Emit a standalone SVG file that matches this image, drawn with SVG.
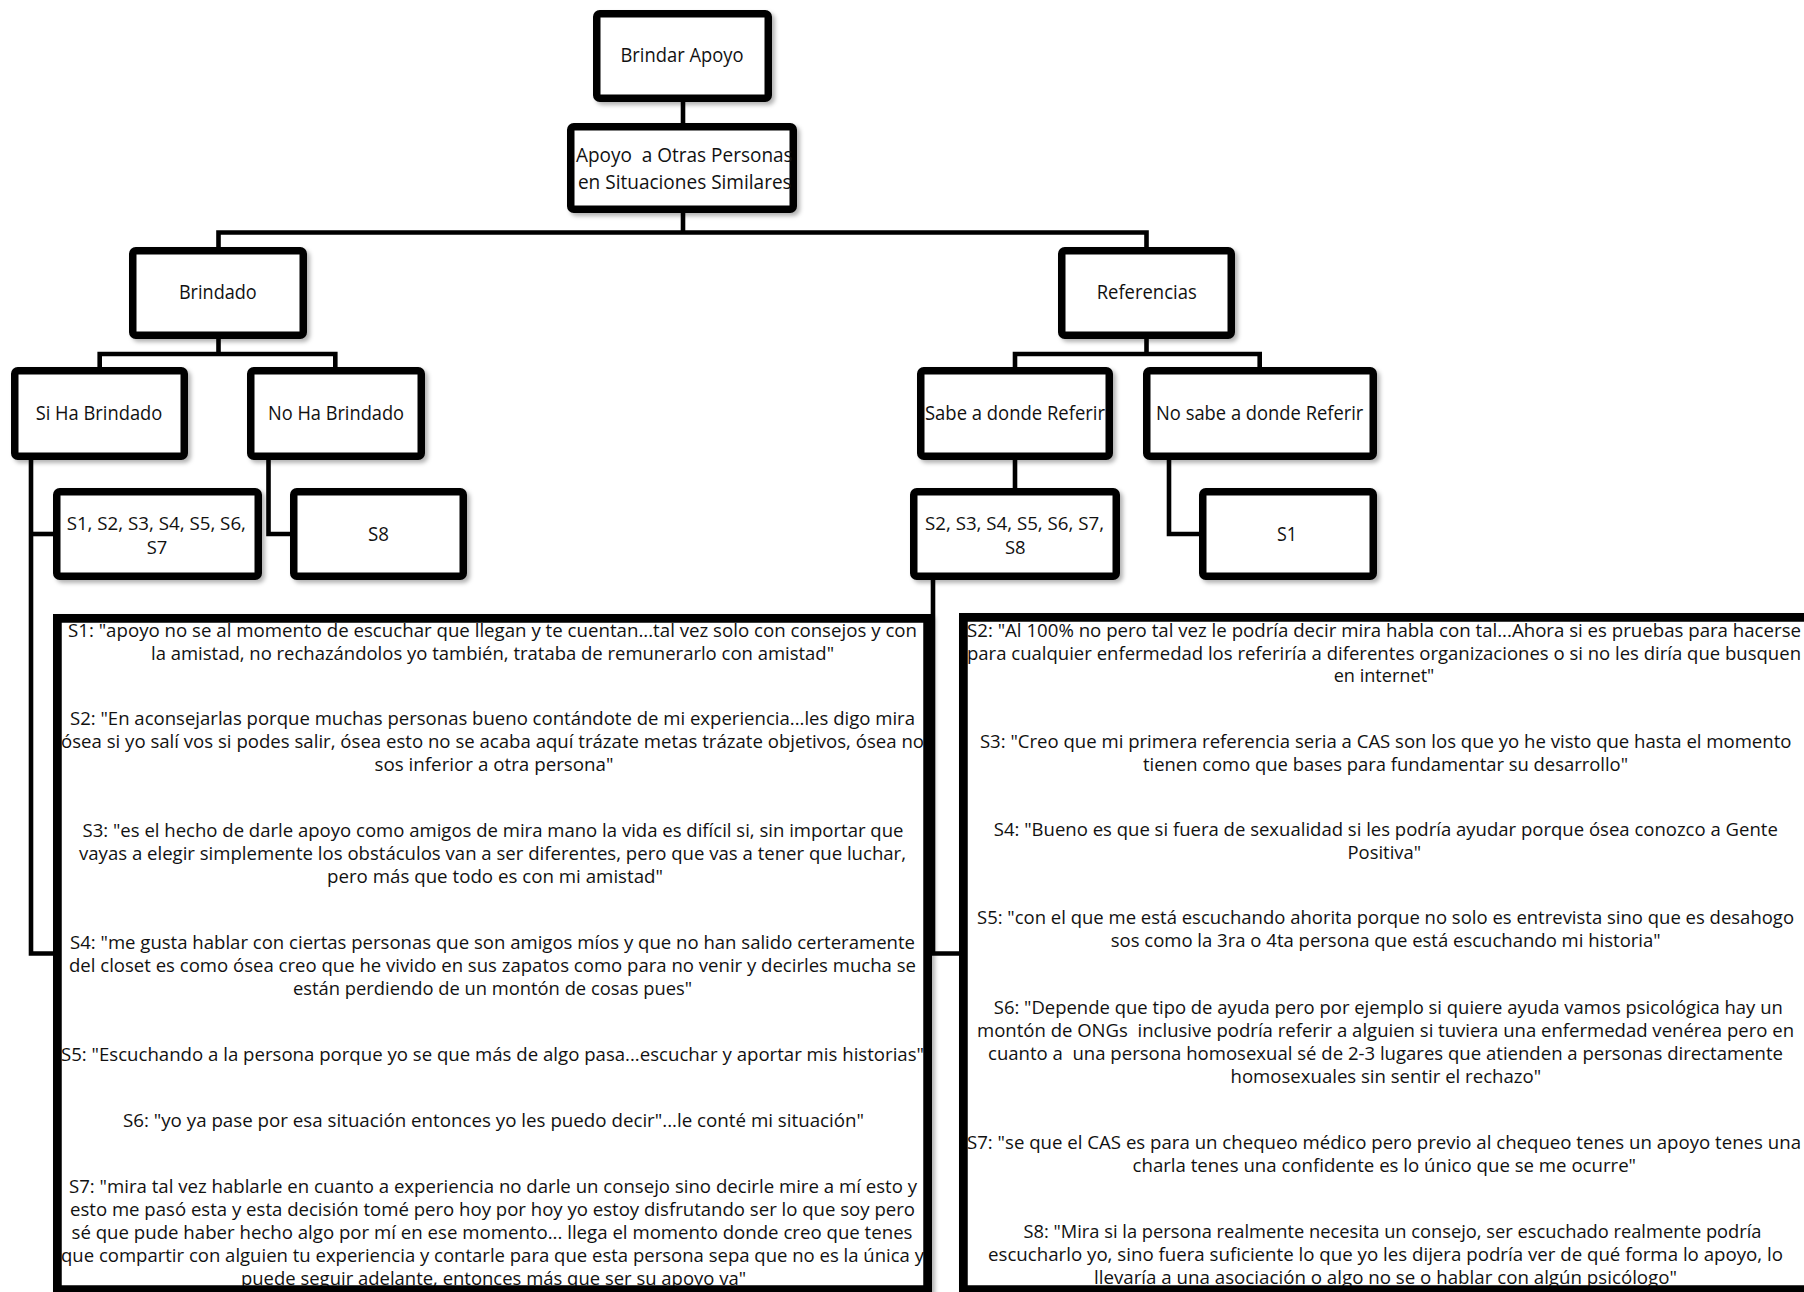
<svg xmlns="http://www.w3.org/2000/svg" width="1804" height="1292" viewBox="0 0 1804 1292">
<defs>
<filter id="sh" x="-10%" y="-10%" width="130%" height="130%">
<feDropShadow dx="3" dy="3" stdDeviation="2" flood-color="#000" flood-opacity="0.3"/>
</filter>
<style>
.box{fill:#fff;stroke:#000;stroke-width:7.5;filter:url(#sh)}
.big{fill:#fff;stroke:#000;stroke-width:8.5;filter:url(#sh)}
.bord{fill:none;stroke:#000;stroke-width:8.5}
.lbl{font-family:"Open Sans","Liberation Sans",sans-serif;font-size:19.5px;text-anchor:middle;fill:#111;white-space:pre}
.sm{font-size:17.5px}
.q{font-family:"Open Sans","Liberation Sans",sans-serif;font-size:18.5px;text-anchor:middle;fill:#111;white-space:pre}
.c{fill:none;stroke:#000;stroke-width:4.6;stroke-linejoin:miter;stroke-linecap:butt}
</style>
</defs>
<rect width="1804" height="1292" fill="#fff"/>

<g id="connectors">
<path class="c" d="M683,102 V123"/>
<path class="c" d="M683,213 V232.5"/>
<path class="c" d="M218.5,247 V232.5 H1146.5 V247"/>
<path class="c" d="M218.5,339 V354"/>
<path class="c" d="M99.7,367 V354 H335.3 V367"/>
<path class="c" d="M1146.5,339 V354"/>
<path class="c" d="M1015,367 V354 H1259.7 V367"/>
<path class="c" d="M31,460 V953.5 H55"/>
<path class="c" d="M31,534 H55"/>
<path class="c" d="M268.5,460 V534 H292"/>
<path class="c" d="M1015,460 V490"/>
<path class="c" d="M1169,460 V534 H1201"/>
<path class="c" d="M933,580 V953.5 H961"/>
</g>

<g id="brindar-apoyo">
<rect class="box" x="596.75" y="13.75" width="171.5" height="84.5" rx="3"/>
<text class="lbl" x="682" y="62" textLength="123" lengthAdjust="spacingAndGlyphs">Brindar Apoyo</text>
</g>
<g id="apoyo-otras">
<rect class="box" x="570.75" y="126.75" width="222.5" height="82.5" rx="3"/>
<text class="lbl" x="684.3" y="162" textLength="216.7" lengthAdjust="spacingAndGlyphs">Apoyo  a Otras Personas</text>
<text class="lbl" x="684.8" y="188.7" textLength="213.7" lengthAdjust="spacingAndGlyphs">en Situaciones Similares</text>
</g>
<g id="brindado">
<rect class="box" x="132.75" y="250.75" width="170.5" height="84.5" rx="3"/>
<text class="lbl" x="217.8" y="299" textLength="77.7" lengthAdjust="spacingAndGlyphs">Brindado</text>
</g>
<g id="si-ha-brindado">
<rect class="box" x="14.75" y="370.75" width="169.5" height="85.5" rx="3"/>
<text class="lbl" x="99" y="419.7" textLength="126.6" lengthAdjust="spacingAndGlyphs">Si Ha Brindado</text>
</g>
<g id="no-ha-brindado">
<rect class="box" x="250.75" y="370.75" width="170.5" height="85.5" rx="3"/>
<text class="lbl" x="336" y="419.7" textLength="136" lengthAdjust="spacingAndGlyphs">No Ha Brindado</text>
</g>
<g id="s1-s7">
<rect class="box" x="56.75" y="491.75" width="201.5" height="84.5" rx="3"/>
<text class="lbl sm" x="156.3" y="529.5" textLength="179.3" lengthAdjust="spacingAndGlyphs">S1, S2, S3, S4, S5, S6,</text>
<text class="lbl sm" x="157" y="553.5" textLength="20.6" lengthAdjust="spacingAndGlyphs">S7</text>
</g>
<g id="s8-left">
<rect class="box" x="293.75" y="491.75" width="169.5" height="84.5" rx="3"/>
<text class="lbl" x="378.5" y="541" textLength="21" lengthAdjust="spacingAndGlyphs">S8</text>
</g>
<g id="referencias">
<rect class="box" x="1061.75" y="250.75" width="169.5" height="84.5" rx="3"/>
<text class="lbl" x="1146.7" y="299" textLength="100" lengthAdjust="spacingAndGlyphs">Referencias</text>
</g>
<g id="sabe">
<rect class="box" x="920.75" y="370.75" width="188.5" height="85.5" rx="3"/>
<text class="lbl" x="1015" y="419.7" textLength="180" lengthAdjust="spacingAndGlyphs">Sabe a donde Referir</text>
</g>
<g id="no-sabe">
<rect class="box" x="1146.75" y="370.75" width="226.5" height="85.5" rx="3"/>
<text class="lbl" x="1259.7" y="419.7" textLength="207.3" lengthAdjust="spacingAndGlyphs">No sabe a donde Referir</text>
</g>
<g id="s2-s8">
<rect class="box" x="913.75" y="491.75" width="202.5" height="84.5" rx="3"/>
<text class="lbl sm" x="1014.5" y="529.5" textLength="179" lengthAdjust="spacingAndGlyphs">S2, S3, S4, S5, S6, S7,</text>
<text class="lbl sm" x="1015.3" y="553.5" textLength="20.7" lengthAdjust="spacingAndGlyphs">S8</text>
</g>
<g id="s1-right">
<rect class="box" x="1202.75" y="491.75" width="170.5" height="84.5" rx="3"/>
<text class="lbl" x="1287" y="541" textLength="20" lengthAdjust="spacingAndGlyphs">S1</text>
</g>

<g id="citas-brindado">
<rect class="big" x="57.25" y="618.25" width="870.5" height="671.5"/>
<text class="q" x="492.5" y="637" textLength="849" lengthAdjust="spacingAndGlyphs">S1: "apoyo no se al momento de escuchar que llegan y te cuentan...tal vez solo con consejos y con</text>
<text class="q" x="492.5" y="660" textLength="683" lengthAdjust="spacingAndGlyphs">la amistad, no rechazándolos yo también, trataba de remunerarlo con amistad"</text>
<text class="q" x="492.5" y="725" textLength="845" lengthAdjust="spacingAndGlyphs">S2: "En aconsejarlas porque muchas personas bueno contándote de mi experiencia...les digo mira</text>
<text class="q" x="492.5" y="748" textLength="863" lengthAdjust="spacingAndGlyphs">ósea si yo salí vos si podes salir, ósea esto no se acaba aquí trázate metas trázate objetivos, ósea no</text>
<text class="q" x="494" y="771" textLength="239" lengthAdjust="spacingAndGlyphs">sos inferior a otra persona"</text>
<text class="q" x="493" y="837" textLength="821" lengthAdjust="spacingAndGlyphs">S3: "es el hecho de darle apoyo como amigos de mira mano la vida es difícil si, sin importar que</text>
<text class="q" x="492.5" y="860" textLength="827" lengthAdjust="spacingAndGlyphs">vayas a elegir simplemente los obstáculos van a ser diferentes, pero que vas a tener que luchar,</text>
<text class="q" x="495" y="883" textLength="336" lengthAdjust="spacingAndGlyphs">pero más que todo es con mi amistad"</text>
<text class="q" x="492.5" y="949" textLength="845" lengthAdjust="spacingAndGlyphs">S4: "me gusta hablar con ciertas personas que son amigos míos y que no han salido certeramente</text>
<text class="q" x="492.5" y="972" textLength="847" lengthAdjust="spacingAndGlyphs">del closet es como ósea creo que he vivido en sus zapatos como para no venir y decirles mucha se</text>
<text class="q" x="492.5" y="995" textLength="399" lengthAdjust="spacingAndGlyphs">están perdiendo de un montón de cosas pues"</text>
<text class="q" x="492.5" y="1061" textLength="863" lengthAdjust="spacingAndGlyphs">S5: "Escuchando a la persona porque yo se que más de algo pasa...escuchar y aportar mis historias"</text>
<text class="q" x="493.5" y="1127" textLength="741" lengthAdjust="spacingAndGlyphs">S6: "yo ya pase por esa situación entonces yo les puedo decir"...le conté mi situación"</text>
<text class="q" x="493" y="1193" textLength="848" lengthAdjust="spacingAndGlyphs">S7: "mira tal vez hablarle en cuanto a experiencia no darle un consejo sino decirle mire a mí esto y</text>
<text class="q" x="492.5" y="1216" textLength="845" lengthAdjust="spacingAndGlyphs">esto me pasó esta y esta decisión tomé pero hoy por hoy yo estoy disfrutando ser lo que soy pero</text>
<text class="q" x="492" y="1239" textLength="841" lengthAdjust="spacingAndGlyphs">sé que pude haber hecho algo por mí en ese momento... llega el momento donde creo que tenes</text>
<text class="q" x="492.5" y="1262" textLength="863" lengthAdjust="spacingAndGlyphs">que compartir con alguien tu experiencia y contarle para que esta persona sepa que no es la única y</text>
<text class="q" x="493.5" y="1285" textLength="505" lengthAdjust="spacingAndGlyphs">puede seguir adelante, entonces más que ser su apoyo va"</text>
<rect class="bord" x="57.25" y="618.25" width="870.5" height="671.5"/>
</g>

<g id="citas-referencias">
<rect class="big" x="963.25" y="617.25" width="847.5" height="672.5"/>
<text class="q" x="1384" y="637" textLength="834" lengthAdjust="spacingAndGlyphs">S2: "Al 100% no pero tal vez le podría decir mira habla con tal...Ahora si es pruebas para hacerse</text>
<text class="q" x="1384" y="659.5" textLength="834" lengthAdjust="spacingAndGlyphs">para cualquier enfermedad los referiría a diferentes organizaciones o si no les diría que busquen</text>
<text class="q" x="1384" y="682" textLength="100.7" lengthAdjust="spacingAndGlyphs">en internet"</text>
<text class="q" x="1385.7" y="748" textLength="811.5" lengthAdjust="spacingAndGlyphs">S3: "Creo que mi primera referencia seria a CAS son los que yo he visto que hasta el momento</text>
<text class="q" x="1385.5" y="770.5" textLength="485" lengthAdjust="spacingAndGlyphs">tienen como que bases para fundamentar su desarrollo"</text>
<text class="q" x="1385.8" y="836" textLength="784" lengthAdjust="spacingAndGlyphs">S4: "Bueno es que si fuera de sexualidad si les podría ayudar porque ósea conozco a Gente</text>
<text class="q" x="1384.3" y="859" textLength="73.5" lengthAdjust="spacingAndGlyphs">Positiva"</text>
<text class="q" x="1385.5" y="924" textLength="817" lengthAdjust="spacingAndGlyphs">S5: "con el que me está escuchando ahorita porque no solo es entrevista sino que es desahogo</text>
<text class="q" x="1385.7" y="947" textLength="550" lengthAdjust="spacingAndGlyphs">sos como la 3ra o 4ta persona que está escuchando mi historia"</text>
<text class="q" x="1388.3" y="1014" textLength="789" lengthAdjust="spacingAndGlyphs">S6: "Depende que tipo de ayuda pero por ejemplo si quiere ayuda vamos psicológica hay un</text>
<text class="q" x="1385.5" y="1037" textLength="817" lengthAdjust="spacingAndGlyphs">montón de ONGs  inclusive podría referir a alguien si tuviera una enfermedad venérea pero en</text>
<text class="q" x="1385.5" y="1060" textLength="795" lengthAdjust="spacingAndGlyphs">cuanto a  una persona homosexual sé de 2-3 lugares que atienden a personas directamente</text>
<text class="q" x="1385.8" y="1083" textLength="310.5" lengthAdjust="spacingAndGlyphs">homosexuales sin sentir el rechazo"</text>
<text class="q" x="1384" y="1149" textLength="834" lengthAdjust="spacingAndGlyphs">S7: "se que el CAS es para un chequeo médico pero previo al chequeo tenes un apoyo tenes una</text>
<text class="q" x="1384.3" y="1172" textLength="503.5" lengthAdjust="spacingAndGlyphs">charla tenes una confidente es lo único que se me ocurre"</text>
<text class="q" x="1392.5" y="1238" textLength="738" lengthAdjust="spacingAndGlyphs">S8: "Mira si la persona realmente necesita un consejo, ser escuchado realmente podría</text>
<text class="q" x="1385.5" y="1261" textLength="795" lengthAdjust="spacingAndGlyphs">escucharlo yo, sino fuera suficiente lo que yo les dijera podría ver de qué forma lo apoyo, lo</text>
<text class="q" x="1385.5" y="1284" textLength="583" lengthAdjust="spacingAndGlyphs">llevaría a una asociación o algo no se o hablar con algún psicólogo"</text>
<rect class="bord" x="963.25" y="617.25" width="847.5" height="672.5"/>
</g>
</svg>
